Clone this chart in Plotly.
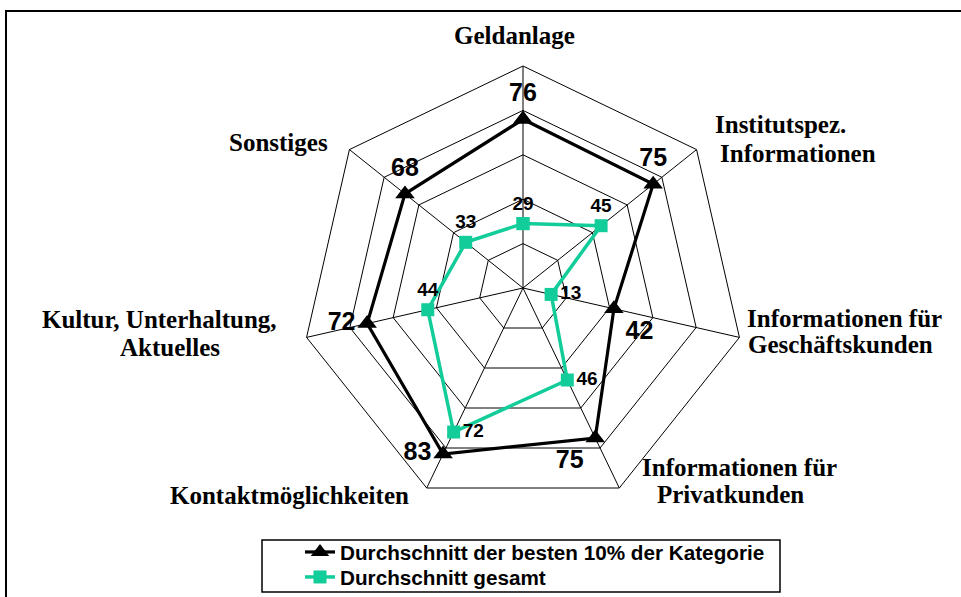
import plotly.graph_objects as go

# ---- data ----
categories = [
    "Geldanlage",
    "Institutspez.<br>Informationen",
    "Informationen für<br>Geschäftskunden",
    "Informationen für<br>Privatkunden",
    "Kontaktmöglichkeiten",
    "Kultur, Unterhaltung,<br>Aktuelles",
    "Sonstiges",
]
series_best_name = "Durchschnitt der besten 10% der Kategorie"
series_best = [76, 75, 42, 75, 83, 72, 68]
series_all_name = "Durchschnitt gesamt"
series_all = [29, 45, 13, 46, 72, 44, 33]
radial_ticks = [20, 40, 60, 80, 100]

W, H = 961, 597
BLACK = "#000000"
TEAL = "#12CC99"

def px(x):
    return x / W

def py(y):
    return 1 - y / H

# label line positions (left x, vertical centre) in pixels, per category line
label_pos = [
    [(452, 35)],
    [(713, 125), (718, 154)],
    [(745, 318), (746, 345)],
    [(640, 467), (655, 494)],
    [(168, 495)],
    [(40, 319), (118, 347)],
    [(227, 142)],
]

theta = categories + [categories[0]]

best_pos = ["top center", "top center", "bottom right", "bottom left",
            "middle left", "middle left", "top center"]
all_pos = ["top center", "top center", "middle right", "middle right",
           "middle right", "top center", "top center"]

fig = go.Figure()
fig.add_trace(go.Scatterpolar(
    r=series_best + [series_best[0]],
    theta=theta,
    mode="lines+markers+text",
    name=series_best_name,
    legend="legend",
    line=dict(color=BLACK, width=3.2),
    marker=dict(symbol="triangle-up", size=17, color=BLACK),
    text=[str(v) for v in series_best] + [""],
    textposition=best_pos + ["top center"],
    textfont=dict(family="Liberation Sans, Arial", size=25, color=BLACK, weight="bold"),
))
fig.add_trace(go.Scatterpolar(
    r=series_all + [series_all[0]],
    theta=theta,
    mode="lines+markers+text",
    name=series_all_name,
    legend="legend2",
    line=dict(color=TEAL, width=3.5),
    marker=dict(symbol="square", size=13, color=TEAL),
    text=[str(v) for v in series_all] + [""],
    textposition=all_pos + ["top center"],
    textfont=dict(family="Liberation Sans, Arial", size=19, color=BLACK, weight="bold"),
))

cx, cy, R = 523, 288, 222
annotations = []
for cat, poss in zip(categories, label_pos):
    lines = cat.split("<br>")
    for line, (x, y) in zip(lines, poss):
        annotations.append(dict(
            x=px(x), y=py(y), xref="paper", yref="paper",
            xanchor="left", yanchor="middle", showarrow=False,
            text=line,
            font=dict(family="Liberation Serif, Times New Roman", size=25,
                      color=BLACK, weight="bold"),
        ))

legend_font = dict(family="Liberation Sans, Arial", size=20.7, color=BLACK, weight="bold")

fig.update_layout(
    width=W, height=H,
    margin=dict(l=0, r=0, t=0, b=0),
    paper_bgcolor="white",
    plot_bgcolor="white",
    showlegend=True,
    polar=dict(
        domain=dict(x=[px(cx - R), px(cx + R)], y=[py(cy + R), py(cy - R)]),
        bgcolor="white",
        gridshape="linear",
        radialaxis=dict(range=[0, 100], tickvals=radial_ticks, showticklabels=False,
                        ticks="", showline=False, gridcolor=BLACK, gridwidth=1),
        angularaxis=dict(direction="clockwise", rotation=90, showticklabels=False,
                         ticks="", linecolor=BLACK, linewidth=1,
                         gridcolor=BLACK, gridwidth=1),
    ),
    legend=dict(
        x=px(300), y=py(552), xanchor="left", yanchor="middle",
        bgcolor="rgba(0,0,0,0)", borderwidth=0, font=legend_font,
    ),
    legend2=dict(
        x=px(300), y=py(577), xanchor="left", yanchor="middle",
        bgcolor="rgba(0,0,0,0)", borderwidth=0, font=legend_font,
    ),
    annotations=annotations,
    shapes=[
        dict(type="rect", xref="paper", yref="paper",
             x0=px(6), x1=px(975), y0=py(610), y1=py(11),
             line=dict(color=BLACK, width=2), fillcolor="rgba(0,0,0,0)", layer="below"),
        dict(type="rect", xref="paper", yref="paper",
             x0=px(262), x1=px(780), y0=py(592), y1=py(540),
             line=dict(color=BLACK, width=1.5), fillcolor="rgba(0,0,0,0)"),
    ],
)

fig.write_html("out.html", config={"displayModeBar": False},
               post_script="document.body.style.margin='0';")
